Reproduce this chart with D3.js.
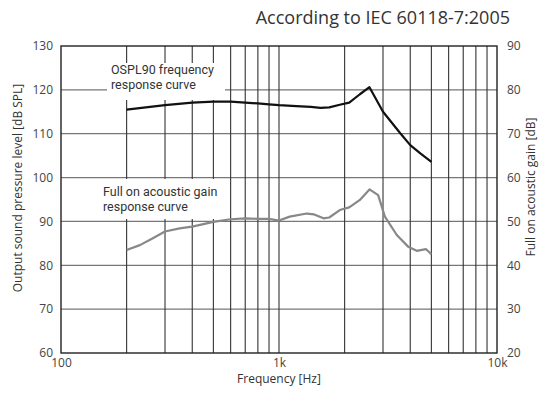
<!DOCTYPE html>
<html>
<head>
<meta charset="utf-8">
<script src="https://cdn.jsdelivr.net/npm/d3@7"></script>
<style>
  body { margin: 0; background: #fff; }
  text { font-family: "Open Sans", sans-serif; fill: #333; }
  text.lbl { font-family: Roboto, "Open Sans", sans-serif; font-size: 12.5px; }
</style>
</head>
<body>
<svg id="chart" width="544" height="394"></svg>
<script>
// Datos
const osplFreq = [200, 300, 400, 500, 600, 700, 800, 900, 1000, 1200, 1400, 1550, 1700, 1900, 2100, 2350, 2600, 3000, 3600, 4000, 4450, 5000];
const osplDb = [115.5, 116.5, 117.1, 117.3, 117.3, 117.1, 116.9, 116.7, 116.5, 116.3, 116.1, 115.9, 116.0, 116.6, 117.1, 119.0, 120.6, 115.0, 110.1, 107.4, 105.5, 103.6];

const gainFreq = [200, 230, 260, 300, 350, 400, 450, 500, 600, 700, 800, 900, 1000, 1120, 1340, 1450, 1600, 1700, 1900, 2100, 2350, 2600, 2850, 3060, 3470, 3920, 4280, 4720, 5000];
const gainDb = [43.5, 44.6, 46.0, 47.7, 48.4, 48.8, 49.4, 49.9, 50.5, 50.7, 50.6, 50.6, 50.2, 51.1, 51.8, 51.6, 50.7, 50.9, 52.6, 53.2, 54.9, 57.3, 56.0, 51.1, 46.9, 44.2, 43.3, 43.7, 42.5];

const leftTicks = [60, 70, 80, 90, 100, 110, 120, 130];
const rightTicks = [20, 30, 40, 50, 60, 70, 80, 90];
const freqLabels = [100, 1000, 10000];
const freqGrid = [200, 300, 400, 500, 600, 700, 800, 900, 2000, 3000, 4000, 5000, 6000, 7000, 8000, 9000];

const svg = d3.select("#chart");
const mLeft = 61, mRight = 497, mTop = 46, mBottom = 353;

const x = d3.scaleLog().domain([100, 10000]).range([mLeft, mRight]);
const yL = d3.scaleLinear().domain([60, 130]).range([mBottom, mTop]);
const yR = d3.scaleLinear().domain([20, 90]).range([mBottom, mTop]);

// Título
svg.append("text")
  .attr("x", 510).attr("y", 24)
  .attr("text-anchor", "end")
  .style("font-size", "18px")
  .text("According to IEC 60118-7:2005");

// Rejilla horizontal (gris)
svg.selectAll(".hgrid")
  .data(leftTicks.filter(d => d > 60 && d < 130))
  .enter().append("line")
  .attr("x1", mLeft).attr("x2", mRight)
  .attr("y1", d => yL(d)).attr("y2", d => yL(d))
  .style("stroke", "#777").style("stroke-width", 1.2);

// Rejilla vertical (oscura)
svg.selectAll(".vgrid")
  .data(freqGrid.concat([1000]))
  .enter().append("line")
  .attr("x1", d => x(d)).attr("x2", d => x(d))
  .attr("y1", mTop).attr("y2", mBottom)
  .style("stroke", "#333").style("stroke-width", 1.1);

// Cajas blancas detrás de las etiquetas
svg.append("rect").attr("x", 107).attr("y", 63).attr("width", 118).attr("height", 37).style("fill", "#fff");
svg.append("rect").attr("x", 100).attr("y", 179).attr("width", 125).attr("height", 40).style("fill", "#fff");

// Marco
svg.append("rect")
  .attr("x", mLeft).attr("y", mTop)
  .attr("width", mRight - mLeft).attr("height", mBottom - mTop)
  .style("fill", "none").style("stroke", "#222").style("stroke-width", 1.4);

// Curvas
const line = (ys) => d3.line().x(d => x(d[0])).y(d => ys(d[1]));

svg.append("path")
  .datum(gainFreq.map((f, i) => [f, gainDb[i]]))
  .attr("d", line(yR))
  .style("fill", "none").style("stroke", "#888").style("stroke-width", 2.2)
  .style("stroke-linejoin", "round");

svg.append("path")
  .datum(osplFreq.map((f, i) => [f, osplDb[i]]))
  .attr("d", line(yL))
  .style("fill", "none").style("stroke", "#111").style("stroke-width", 2.2)
  .style("stroke-linejoin", "round");

// Etiquetas de curvas (una línea por texto)
const curveLabels = [
  { x: 111, y: 74, t: "OSPL90 frequency" },
  { x: 111, y: 88.5, t: "response curve" },
  { x: 103, y: 196, t: "Full on acoustic gain" },
  { x: 103, y: 210.5, t: "response curve" }
];
svg.selectAll(".lbl")
  .data(curveLabels)
  .enter().append("text")
  .attr("class", "lbl")
  .attr("x", d => d.x).attr("y", d => d.y)
  .text(d => d.t);

// Ejes
svg.append("g")
  .attr("transform", `translate(${mLeft},0)`)
  .call(d3.axisLeft(yL).tickValues(leftTicks).tickSize(0).tickPadding(8))
  .call(g => g.select(".domain").remove())
  .selectAll("text").style("font-size", "12px").style("fill", "#444");

svg.append("g")
  .attr("transform", `translate(${mRight},0)`)
  .call(d3.axisRight(yR).tickValues(rightTicks).tickSize(0).tickPadding(10))
  .call(g => g.select(".domain").remove())
  .selectAll("text").style("font-size", "12px").style("fill", "#444");

svg.append("g")
  .attr("transform", `translate(0,${mBottom})`)
  .call(d3.axisBottom(x).tickValues(freqLabels).tickSize(0).tickPadding(5)
    .tickFormat(d => d >= 1000 ? (d / 1000) + "k" : d))
  .call(g => g.select(".domain").remove())
  .selectAll("text").style("font-size", "12px").style("fill", "#444");

// Títulos de ejes
svg.append("text")
  .attr("transform", "translate(22,188) rotate(-90)")
  .attr("text-anchor", "middle")
  .style("font-size", "12px")
  .text("Output sound pressure level [dB SPL]");

svg.append("text")
  .attr("transform", "translate(535,187) rotate(-90)")
  .attr("text-anchor", "middle")
  .style("font-size", "12px")
  .text("Full on acoustic gain [dB]");

svg.append("text")
  .attr("x", 279).attr("y", 383)
  .attr("text-anchor", "middle")
  .style("font-size", "12px")
  .text("Frequency [Hz]");
</script>
</body>
</html>
